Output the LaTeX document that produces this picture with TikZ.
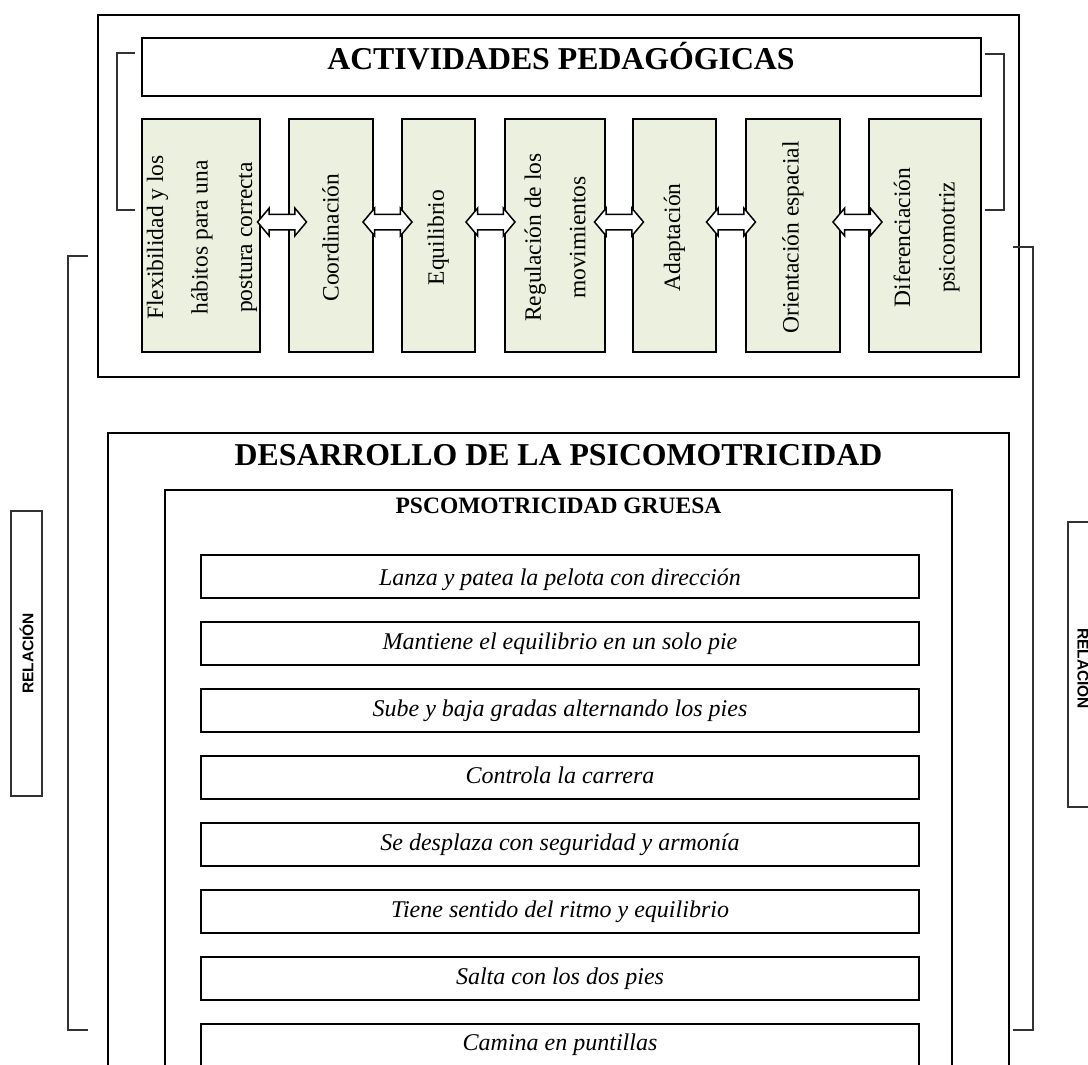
\documentclass[tikz,border=0pt]{standalone}
\usepackage{fontspec}
\setmainfont{Liberation Serif}
\newfontfamily\relfont{Liberation Sans}
\usetikzlibrary{shapes.arrows,calc}
\definecolor{boxgreen}{RGB}{235,241,222}
\definecolor{brk}{RGB}{50,50,50}
\begin{document}
\begin{tikzpicture}[x=1pt,y=-1pt,
  frame/.style={draw=black, line width=2pt, anchor=north west, inner sep=0pt, outer sep=0pt},
  greenbox/.style={frame, fill=boxgreen},
  itembox/.style={frame, minimum width=718pt, minimum height=43pt},
  relbox/.style={draw=brk, line width=1.4pt, anchor=north west, inner sep=0pt, outer sep=0pt, minimum width=31pt, minimum height=285pt},
  bracket/.style={draw=brk, line width=1.5pt},
  bigtitle/.style={font=\fontsize{31.8}{36}\selectfont\bfseries, anchor=base, inner sep=0pt},
  subtitle/.style={font=\fontsize{23.5}{28}\selectfont\bfseries, anchor=base, inner sep=0pt},
  itemtext/.style={font=\fontsize{24}{28}\selectfont\itshape, anchor=base, inner sep=0pt},
  vtext/.style={rotate=90, align=center, inner sep=0pt, font=\fontsize{23.5}{44.5}\selectfont},
  reltext/.style={inner sep=0pt, font=\fontsize{15.5}{18}\selectfont\relfont\bfseries},
  dblarr/.style={double arrow, draw=black, line width=1.5pt, fill=white, inner xsep=0pt, inner ysep=7pt, minimum height=49pt, double arrow head extend=6pt, double arrow tip angle=100, outer sep=0pt}
]
\useasboundingbox (0,0) rectangle (1088,1065);
\clip (0,0) rectangle (1088,1065);

% ---------- top block ----------
\node[frame, minimum width=921pt, minimum height=362pt] (top) at (98,15) {};
\node[frame, minimum width=839.5pt, minimum height=58pt] (tbox) at (141.5,38) {};
\node[bigtitle] (ttext) at (561,70) {ACTIVIDADES PEDAGÓGICAS};

\node[greenbox, minimum width=118pt, minimum height=233pt] (g1) at (141.5,119) {};
\node[greenbox, minimum width=84pt,  minimum height=233pt] (g2) at (288.5,119) {};
\node[greenbox, minimum width=73.5pt,minimum height=233pt] (g3) at (401.5,119) {};
\node[greenbox, minimum width=100pt, minimum height=233pt] (g4) at (505,119) {};
\node[greenbox, minimum width=83pt,  minimum height=233pt] (g5) at (633,119) {};
\node[greenbox, minimum width=94pt,  minimum height=233pt] (g6) at (746,119) {};
\node[greenbox, minimum width=112pt, minimum height=233pt] (g7) at (869,119) {};

\node[vtext] (t1) at ($(g1.center)+(1.5,2)$) {Flexibilidad y los\\hábitos para una\\postura correcta};
\node[vtext] (t2) at ($(g2.center)+(0,2)$) {Coordinación};
\node[vtext] (t3) at ($(g3.center)+(0,2)$) {Equilibrio};
\node[vtext] (t4) at ($(g4.center)+(0,2)$) {Regulación de los\\movimientos};
\node[vtext] (t5) at ($(g5.center)+(0,2)$) {Adaptación};
\node[vtext] (t6) at ($(g6.center)+(0,2)$) {Orientación espacial};
\node[vtext] (t7) at ($(g7.center)+(1.5,2)$) {Diferenciación\\psicomotriz};

\node[dblarr] (a12) at ($(g1.east)!0.5!(g2.west)+(8,-13.5)$) {};
\node[dblarr] (a23) at ($(g2.east)!0.5!(g3.west)+(0.5,-13.5)$) {};
\node[dblarr] (a34) at ($(g3.east)!0.5!(g4.west)+(0.5,-13.5)$) {};
\node[dblarr] (a45) at ($(g4.east)!0.5!(g5.west)+(0,-13.5)$) {};
\node[dblarr] (a56) at ($(g5.east)!0.5!(g6.west)+(0,-13.5)$) {};
\node[dblarr] (a67) at ($(g6.east)!0.5!(g7.west)+(3,-13.5)$) {};

% small brackets
\coordinate (sbl1) at (135,53);
\coordinate (sbl2) at (135,210);
\draw[bracket] (sbl1) -- ++(-18,0) |- (sbl2);
\coordinate (sbr1) at (985,54);
\coordinate (sbr2) at (985,210);
\draw[bracket] (sbr1) -- ++(19,0) |- (sbr2);

% ---------- bottom block ----------
\node[frame, minimum width=901pt, minimum height=700pt] (dev) at (108,433) {};
\node[bigtitle] (dtext) at (558.5,465) {DESARROLLO DE LA PSICOMOTRICIDAD};
\node[frame, minimum width=787pt, minimum height=700pt] (gru) at (165,490) {};
\node[subtitle] (gtext) at (558.5,513) {PSCOMOTRICIDAD GRUESA};

\foreach \i/\off/\txt in {0/30/Lanza y patea la pelota con dirección,
                     1/27/Mantiene el equilibrio en un solo pie,
                     2/27/Sube y baja gradas alternando los pies,
                     3/27/Controla la carrera,
                     4/27/Se desplaza con seguridad y armonía,
                     5/27/Tiene sentido del ritmo y equilibrio,
                     6/27/Salta con los dos pies,
                     7/26/Camina en puntillas}{
  \node[itembox] (it\i) at (201,555+67*\i) {};
  \node[itemtext] (itt\i) at ($(it\i.north)+(0,\off)$) {\txt};
}

% relation boxes
\node[relbox] (relL) at (11,511) {};
\node[reltext, rotate=90] (relLt) at (relL.center) {RELACIÓN};
\node[relbox] (relR) at (1068,522) {};
\node[reltext, rotate=-90] (relRt) at ($(relR.center)+(1,4)$) {RELACIÓN};

% long brackets
\coordinate (lbl1) at (88,256);
\coordinate (lbl2) at (88,1030);
\draw[bracket] (lbl1) -- ++(-20,0) |- (lbl2);
\coordinate (lbr1) at (1013,247);
\coordinate (lbr2) at (1013,1030);
\draw[bracket] (lbr1) -- ++(20,0) |- (lbr2);
\end{tikzpicture}
\end{document}
